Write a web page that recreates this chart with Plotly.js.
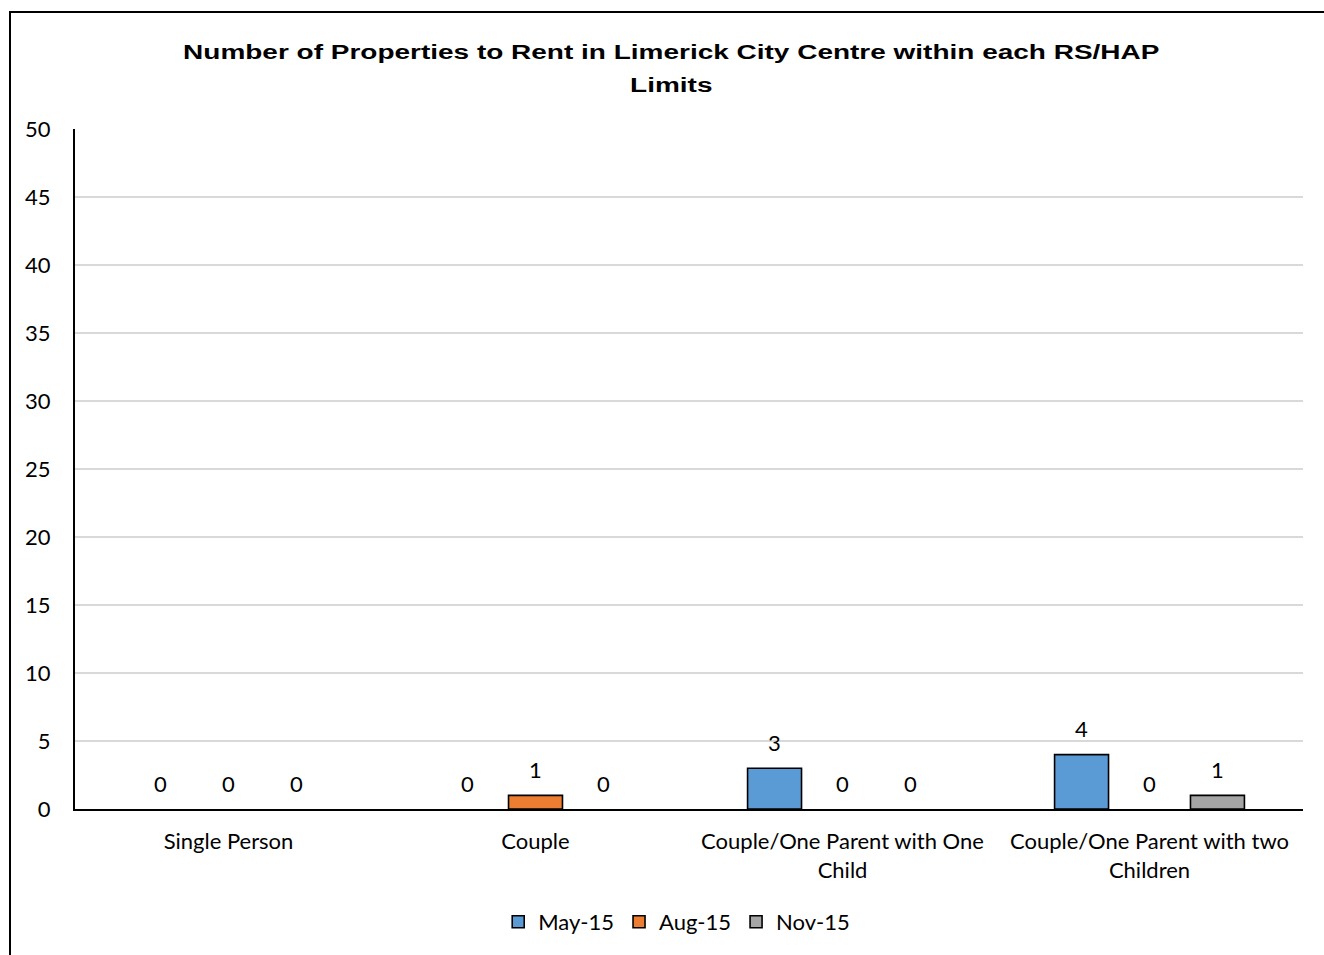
<!DOCTYPE html>
<html>
<head>
<meta charset="utf-8">
<script src="https://cdn.plot.ly/plotly-3.0.1.min.js"></script>
<style>
  html, body { margin: 0; padding: 0; background: #fff; overflow: hidden; }
  #wrap { position: relative; width: 1324px; height: 955px; }
  #chart { width: 1324px; height: 955px; }
  /* chart frame: only the top and left edges fall inside the page */
  #frame {
    position: absolute; left: 9px; top: 11px; width: 1400px; height: 1000px;
    border-top: 2px solid #000; border-left: 2px solid #000;
    pointer-events: none; box-sizing: border-box;
  }
  /* legend swatches keep their outline even when a series starts at zero */
  #chart .legend .legendpoints path { stroke: #000 !important; stroke-width: 1.6px !important; }
</style>
</head>
<body>
<div id="wrap">
  <div id="chart"></div>
  <div id="frame"></div>
</div>
<script>
// Household types (tick labels) and number of listings per survey month
const categories = [
  'Single Person',
  'Couple',
  'Couple/One Parent with One<br>Child',
  'Couple/One Parent with two<br>Children'
];
const seriesNames = ['May-15', 'Aug-15', 'Nov-15'];
const may15 = [0, 0, 3, 4];
const aug15 = [0, 1, 0, 0];
const nov15 = [0, 0, 0, 1];
const yTicks = [0, 5, 10, 15, 20, 25, 30, 35, 40, 45, 50];

const seriesValues = [may15, aug15, nov15];
const seriesColors = ['#5B9BD5', '#ED7D31', '#A5A5A5'];

const BODY_FONT = 'Lato, "Open Sans", sans-serif';
const BODY_SIZE = 22;
const bargap = 0.336;
const bargroupgap = 0.206;

const traces = seriesValues.map((vals, k) => ({
  type: 'bar',
  name: seriesNames[k],
  x: categories,
  y: vals,
  marker: {
    color: seriesColors[k],
    // empty bars get no outline so nothing sits on the axis
    line: { color: '#000', width: vals.map(v => (v === 0 ? 0 : 1.6)) }
  },
  hoverinfo: 'x+y+name'
}));

// value labels above each bar, offset to the bar's slot within its group
const slot = (1 - bargap) / seriesValues.length;
const annotations = [];
seriesValues.forEach((vals, k) => {
  vals.forEach((v, i) => {
    annotations.push({
      xref: 'x', yref: 'y',
      x: i + (k - (seriesValues.length - 1) / 2) * slot,
      y: v,
      text: String(v),
      showarrow: false,
      yanchor: 'middle',
      yshift: 26,
      font: { family: BODY_FONT, size: BODY_SIZE, color: '#000' }
    });
  });
});

const layout = {
  width: 1324,
  height: 955,
  margin: { l: 75, r: 21, t: 129, b: 146 },
  paper_bgcolor: '#fff',
  plot_bgcolor: '#fff',
  barmode: 'group',
  bargap: bargap,
  bargroupgap: bargroupgap,
  title: {
    text: 'Number of Properties to Rent in Limerick City Centre within each RS/HAP<br>Limits',
    font: { family: '"Liberation Sans", Arial, sans-serif', size: 19.5, color: '#000', weight: 'bold' },
    x: 0.507, xanchor: 'center',
    y: 0.938, yanchor: 'top', yref: 'container'
  },
  xaxis: {
    type: 'category',
    showgrid: false,
    showline: true, linecolor: '#000', linewidth: 2,
    ticks: '',
    tickfont: { family: BODY_FONT, size: BODY_SIZE, color: '#000' },
    ticklabelstandoff: 12,
    fixedrange: true
  },
  yaxis: {
    range: [0, 50],
    tickvals: yTicks,
    ticktext: yTicks.map(String),
    showgrid: true, gridcolor: '#D9D9D9', gridwidth: 1.5,
    zeroline: false,
    showline: true, linecolor: '#000', linewidth: 2,
    ticks: '',
    tickfont: { family: BODY_FONT, size: BODY_SIZE, color: '#000' },
    ticklabelstandoff: 18,
    fixedrange: true
  },
  legend: {
    orientation: 'h',
    x: 0.49, xanchor: 'center',
    y: -0.166, yanchor: 'middle',
    font: { family: BODY_FONT, size: BODY_SIZE, color: '#000' },
    itemwidth: 30,
    traceorder: 'normal'
  },
  annotations: annotations,
  showlegend: true
};

Plotly.newPlot('chart', traces, layout, { displayModeBar: false, staticPlot: true }).then(() => {
  // widen the title glyphs and open up the line spacing of the two-line heading
  const t = document.querySelector('#chart .gtitle');
  if (!t) return;
  const lines = t.querySelectorAll('tspan.line');
  if (lines.length > 1) lines[1].setAttribute('dy', '1.69em');
  const first = lines.length ? lines[0] : t;
  const w = first.getBBox().width;
  const s = 977 / w;
  const cx = parseFloat(t.getAttribute('x'));
  const prev = t.getAttribute('transform') || '';
  t.setAttribute('transform', prev + ' translate(' + cx + ',0) scale(' + s + ',1) translate(' + (-cx) + ',0)');
});
</script>
</body>
</html>
